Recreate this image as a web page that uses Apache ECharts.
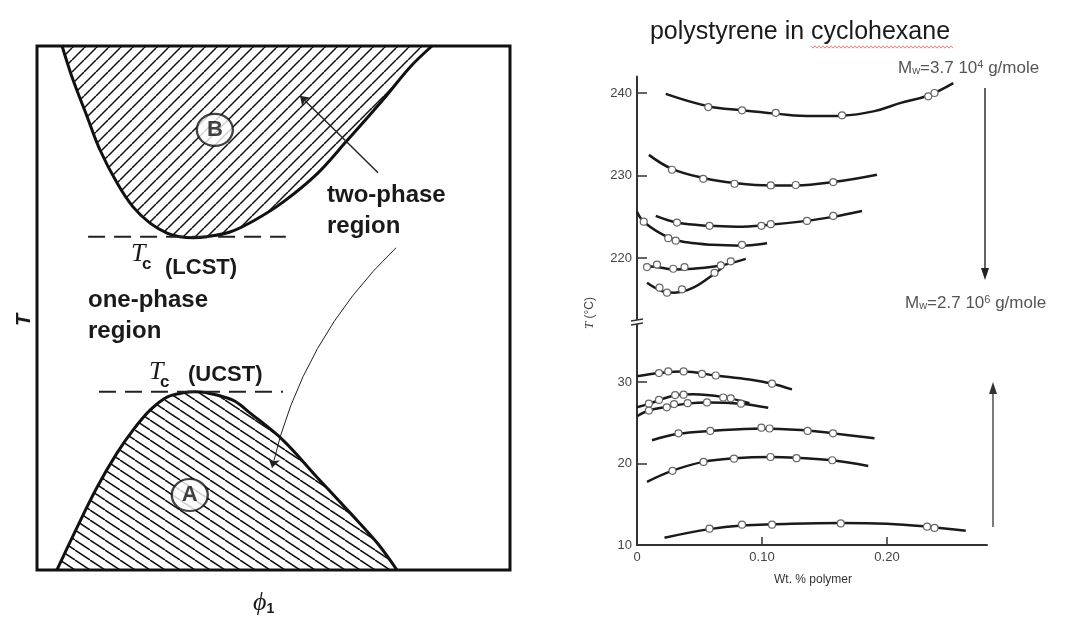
<!DOCTYPE html>
<html lang="en">
<head>
<meta charset="UTF-8">
<title>UCST / LCST</title>
<script src="https://cdn.jsdelivr.net/npm/echarts@6/dist/echarts.min.js"></script>
<style>
    html, body { margin: 0; padding: 0; background: #fff; }
    #main { width: 1073px; height: 617px; }
</style>
</head>
<body>
<div id="main"></div>
<script>
// left panel: schematic, phi1 and T as fractions of the frame
var lcstCurve = [[0.053,1.0],[0.074,0.941],[0.106,0.865],[0.133,0.802],[0.169,0.739],[0.203,0.693],[0.239,0.662],[0.275,0.643],[0.302,0.636],[0.330,0.634],[0.359,0.636],[0.408,0.645],[0.461,0.668],[0.520,0.702],[0.592,0.756],[0.655,0.819],[0.731,0.897],[0.789,0.960],[0.835,1.0]];
var ucstCurve = [[0.042,0],[0.085,0.082],[0.127,0.158],[0.169,0.223],[0.203,0.267],[0.239,0.305],[0.275,0.330],[0.309,0.338],[0.334,0.340],[0.359,0.338],[0.414,0.324],[0.450,0.300],[0.520,0.248],[0.592,0.177],[0.662,0.109],[0.719,0.052],[0.761,0]];
var lcstLevel = [[0.108,0.636],[0.526,0.636]];
var ucstLevel = [[0.131,0.340],[0.520,0.340]];
var regionMarks = [['B',0.376,0.840],['A',0.323,0.143]];
var arrowStraight = [[0.721,0.758],[0.556,0.905]];
var arrowCurved = [[0.759,0.615],[0.497,0.195]];

// right panel: polystyrene in cyclohexane, [wt% polymer, T in C]
var hiCurves = [
    [[0.023,239.9],[0.057,238.4],[0.084,237.9],[0.111,237.5],[0.14,237.2],[0.164,237.25],[0.19,237.8],[0.211,238.8],[0.233,239.7],[0.253,241.2]],
    [[0.0095,232.5],[0.028,230.8],[0.053,229.7],[0.078,229.1],[0.107,228.8],[0.127,228.8],[0.157,229.2],[0.192,230.1]],
    [[0.015,225.1],[0.032,224.3],[0.058,223.9],[0.08,223.8],[0.1,223.95],[0.136,224.5],[0.157,225.0],[0.18,225.7]],
    [[0,225.6],[0.006,224.3],[0.025,222.5],[0.04,221.9],[0.06,221.6],[0.084,221.5],[0.104,221.8]],
    [[0.006,219.0],[0.016,218.9],[0.03,218.6],[0.045,218.7],[0.067,219.1],[0.087,219.9]],
    [[0.008,217.0],[0.02,216.0],[0.03,215.8],[0.045,216.4],[0.062,218.1],[0.068,218.8]]
];
var hiPoints = [
    [[0.057,238.3],[0.084,237.9],[0.111,237.6],[0.164,237.3],[0.233,239.6],[0.238,240.0]],
    [[0.028,230.7],[0.053,229.6],[0.078,229.0],[0.107,228.8],[0.127,228.85],[0.157,229.2]],
    [[0.032,224.3],[0.058,223.9],[0.0995,223.9],[0.107,224.1],[0.136,224.5],[0.157,225.1]],
    [[0.0054,224.4],[0.025,222.4],[0.031,222.1],[0.084,221.6]],
    [[0.008,218.9],[0.016,219.2],[0.029,218.7],[0.038,218.9],[0.067,219.1],[0.075,219.6]],
    [[0.018,216.4],[0.024,215.8],[0.036,216.2],[0.062,218.2]]
];
var loCurves = [
    [[0,30.7],[0.018,31.1],[0.037,31.3],[0.063,30.8],[0.09,30.3],[0.108,29.8],[0.124,29.1]],
    [[0,26.9],[0.01,27.35],[0.02,27.9],[0.032,28.4],[0.045,28.5],[0.069,28.15],[0.09,27.4]],
    [[0,25.8],[0.0095,26.5],[0.024,26.95],[0.04,27.35],[0.056,27.5],[0.083,27.35],[0.105,26.85]],
    [[0.012,22.85],[0.033,23.65],[0.059,24.0],[0.1,24.3],[0.136,24.05],[0.157,23.7],[0.19,23.1]],
    [[0.008,17.75],[0.028,19.1],[0.053,20.2],[0.078,20.65],[0.107,20.8],[0.128,20.7],[0.156,20.4],[0.185,19.7]],
    [[0.022,10.9],[0.058,11.95],[0.084,12.4],[0.11,12.55],[0.163,12.7],[0.2,12.6],[0.232,12.25],[0.263,11.75]]
];
var loPoints = [
    [[0.0176,31.1],[0.025,31.3],[0.0373,31.3],[0.052,31.0],[0.063,30.8],[0.108,29.8]],
    [[0.0095,27.35],[0.0176,27.8],[0.0305,28.4],[0.0373,28.45],[0.069,28.1],[0.075,28.0]],
    [[0.0095,26.5],[0.0238,26.9],[0.0297,27.3],[0.0405,27.4],[0.056,27.5],[0.0832,27.35]],
    [[0.0332,23.7],[0.0586,24.0],[0.0995,24.4],[0.106,24.3],[0.1365,24.0],[0.1568,23.7]],
    [[0.0284,19.1],[0.0532,20.2],[0.0776,20.6],[0.1068,20.8],[0.1276,20.65],[0.1562,20.4]],
    [[0.058,12.0],[0.084,12.5],[0.108,12.5],[0.163,12.65],[0.232,12.25],[0.238,12.1]]
];
var hiTicks = [220, 230, 240];
var loTicks = [20, 30];
var loLabels = [10, 20, 30];
var xTicks = [0.1, 0.2];
var xLabels = [0, 0.1, 0.2];

// diagonal hatch tile, dir 1 = "/", -1 = "\"
function hatch(dir, w, h) {
    var c = document.createElement('canvas');
    c.width = w; c.height = h;
    var g = c.getContext('2d');
    g.strokeStyle = '#111';
    g.lineWidth = 1.5;
    for (var k = -1; k <= 1; k++) {
        g.beginPath();
        if (dir > 0) { g.moveTo(k * w, h); g.lineTo(k * w + w, 0); }
        else { g.moveTo(k * w, 0); g.lineTo(k * w + w, h); }
        g.stroke();
    }
    return c;
}

// red squiggle under "cyclohexane" (spell-check mark in the source)
function squiggle(x0, x1, y) {
    var pts = [];
    for (var x = x0, i = 0; x <= x1; x += 2, i++) pts.push([x, y + (i % 2 ? 1.2 : -1.2)]);
    return pts;
}

var SANS = 'Liberation Sans, Arial, sans-serif';
var SERIF = 'Liberation Serif, DejaVu Serif, serif';

var series = [
    {
        type: 'line', xAxisIndex: 0, yAxisIndex: 0, data: lcstCurve, smooth: 0.35,
        showSymbol: false, lineStyle: { color: '#111', width: 3 },
        areaStyle: { origin: 'end', opacity: 1, color: { image: hatch(1, 12, 12), repeat: 'repeat' } }
    },
    {
        type: 'line', xAxisIndex: 0, yAxisIndex: 0, data: ucstCurve, smooth: 0.35,
        showSymbol: false, lineStyle: { color: '#111', width: 3 },
        areaStyle: { origin: 'start', opacity: 1, color: { image: hatch(-1, 15, 10), repeat: 'repeat' } }
    },
    {
        type: 'line', xAxisIndex: 0, yAxisIndex: 0, data: lcstLevel, showSymbol: false,
        lineStyle: { color: '#222', width: 2, type: [17, 9] }
    },
    {
        type: 'line', xAxisIndex: 0, yAxisIndex: 0, data: ucstLevel, showSymbol: false,
        lineStyle: { color: '#222', width: 2, type: [17, 9] }
    },
    {
        type: 'scatter', xAxisIndex: 0, yAxisIndex: 0, z: 5,
        data: regionMarks.map(function (m) { return { name: m[0], value: [m[1], m[2]] }; }),
        symbolSize: [36, 32],
        itemStyle: { color: '#fff', borderColor: '#111', borderWidth: 2.2 },
        label: { show: true, position: 'inside', formatter: '{b}', color: '#111',
            fontFamily: SANS, fontSize: 22, fontWeight: 'bold' }
    },
    {
        type: 'lines', coordinateSystem: 'cartesian2d', xAxisIndex: 0, yAxisIndex: 0, z: 6,
        symbol: ['none', 'arrow'], symbolSize: 9,
        lineStyle: { color: '#222', width: 1.4, opacity: 1 },
        data: [
            { coords: arrowStraight },
            { coords: arrowCurved, lineStyle: { curveness: -0.15, width: 1 } }
        ]
    }
];

hiCurves.forEach(function (c) {
    series.push({ type: 'line', xAxisIndex: 1, yAxisIndex: 1, data: c, smooth: 0.4,
        showSymbol: false, lineStyle: { color: '#1a1a1a', width: 2.5 } });
});
hiPoints.forEach(function (p) {
    series.push({ type: 'scatter', xAxisIndex: 1, yAxisIndex: 1, data: p, symbolSize: 7, z: 4,
        itemStyle: { color: '#fff', borderColor: '#666', borderWidth: 1.2, opacity: 1 } });
});
loCurves.forEach(function (c) {
    series.push({ type: 'line', xAxisIndex: 2, yAxisIndex: 2, data: c, smooth: 0.4,
        showSymbol: false, lineStyle: { color: '#1a1a1a', width: 2.5 } });
});
loPoints.forEach(function (p) {
    series.push({ type: 'scatter', xAxisIndex: 2, yAxisIndex: 2, data: p, symbolSize: 7, z: 4,
        itemStyle: { color: '#fff', borderColor: '#666', borderWidth: 1.2, opacity: 1 } });
});

var axisStyle = { lineStyle: { color: '#333', width: 2 } };
var tickLabel = { color: '#444', fontFamily: SANS, fontSize: 13 };

function txt(x, y, text, font, opt) {
    var s = { x: x, y: y, text: text, font: font, fill: '#1a1a1a', align: 'left', verticalAlign: 'middle' };
    for (var k in (opt || {})) s[k] = opt[k];
    return { type: 'text', style: s, z: 10 };
}

var myChart = echarts.init(document.getElementById('main'));

var option = {
    animation: false,
    backgroundColor: '#fff',
    grid: [
        { left: 37, top: 46, width: 473, height: 524, show: true, borderColor: '#111', borderWidth: 3 },
        { left: 637, top: 76.5, width: 350, height: 247.5 },
        { left: 637, top: 325, width: 350, height: 220 }
    ],
    xAxis: [
        { gridIndex: 0, type: 'value', min: 0, max: 1, show: false },
        { gridIndex: 1, type: 'value', min: 0, max: 0.28, show: false },
        {
            gridIndex: 2, type: 'value', min: 0, max: 0.28, splitLine: { show: false },
            axisLine: axisStyle,
            axisTick: { inside: true, length: 8, customValues: xTicks, lineStyle: { color: '#333', width: 1.5 } },
            axisLabel: Object.assign({ customValues: xLabels, margin: 6,
                formatter: function (v) { return v === 0 ? '0' : v.toFixed(2); } }, tickLabel)
        }
    ],
    yAxis: [
        { gridIndex: 0, type: 'value', min: 0, max: 1, show: false },
        {
            gridIndex: 1, type: 'value', min: 212, max: 242, splitLine: { show: false },
            axisLine: axisStyle,
            axisTick: { inside: true, length: 10, customValues: hiTicks, lineStyle: { color: '#333', width: 1.5 } },
            axisLabel: Object.assign({ customValues: hiTicks, margin: 5 }, tickLabel)
        },
        {
            gridIndex: 2, type: 'value', min: 10, max: 37, splitLine: { show: false },
            axisLine: axisStyle,
            axisTick: { inside: true, length: 10, customValues: loTicks, lineStyle: { color: '#333', width: 1.5 } },
            axisLabel: Object.assign({ customValues: loLabels, margin: 5 }, tickLabel)
        }
    ],
    graphic: [
        // left panel labels
        {
            type: 'text', x: 24, y: 320, rotation: Math.PI / 2, z: 10,
            style: { text: 'T', font: 'italic bold 20px ' + SANS, fill: '#1a1a1a', align: 'center', verticalAlign: 'middle' }
        },
        txt(327, 195, 'two-phase', 'bold 24px ' + SANS),
        txt(327, 226, 'region', 'bold 24px ' + SANS),
        txt(88, 300, 'one-phase', 'bold 24px ' + SANS),
        txt(88, 331, 'region', 'bold 24px ' + SANS),
        txt(131, 254, 'T', 'italic 26px ' + SERIF),
        txt(142, 264, 'c', 'bold 17px ' + SANS),
        txt(165, 268, '(LCST)', 'bold 22px ' + SANS),
        txt(149, 372, 'T', 'italic 26px ' + SERIF),
        txt(160, 382, 'c', 'bold 17px ' + SANS),
        txt(188, 375, '(UCST)', 'bold 22px ' + SANS),
        {
            type: 'text', x: 253, y: 603, z: 10,
            style: { text: '{p|ϕ}{s|1}', verticalAlign: 'middle',
                rich: { p: { font: 'italic 26px ' + SERIF, fill: '#1a1a1a', lineHeight: 26 },
                        s: { font: 'bold 14px ' + SANS, fill: '#1a1a1a', verticalAlign: 'bottom', lineHeight: 14 } } }
        },
        // right panel labels
        txt(800, 32, 'polystyrene in cyclohexane', '25px ' + SANS, { align: 'center' }),
        { type: 'polyline', shape: { points: squiggle(811, 953, 47) }, style: { stroke: '#e06060', lineWidth: 0.8, fill: null }, z: 10 },
        {
            type: 'text', x: 898, y: 68, z: 10,
            style: { text: 'M{s|w}=3.7 10{p|4} g/mole', font: '17px ' + SANS, fill: '#555', verticalAlign: 'middle',
                rich: { s: { font: '11px ' + SANS, fill: '#555', verticalAlign: 'bottom', lineHeight: 11 },
                        p: { font: '11px ' + SANS, fill: '#555', verticalAlign: 'top', lineHeight: 11 } } }
        },
        {
            type: 'text', x: 905, y: 303, z: 10,
            style: { text: 'M{s|w}=2.7 10{p|6} g/mole', font: '17px ' + SANS, fill: '#555', verticalAlign: 'middle',
                rich: { s: { font: '11px ' + SANS, fill: '#555', verticalAlign: 'bottom', lineHeight: 11 },
                        p: { font: '11px ' + SANS, fill: '#555', verticalAlign: 'top', lineHeight: 11 } } }
        },
        {
            type: 'text', x: 590, y: 313, rotation: Math.PI / 2, z: 10,
            style: { text: '{t|T} (°C)', font: '12px ' + SANS, fill: '#444', align: 'center', verticalAlign: 'middle',
                rich: { t: { font: 'italic 13px ' + SERIF, fill: '#444' } } }
        },
        txt(813, 580, 'Wt. % polymer', '12px ' + SANS, { align: 'center', fill: '#333' }),
        // axis break
        { type: 'rect', shape: { x: 633, y: 320, width: 8, height: 4 }, style: { fill: '#fff' }, z: 10 },
        { type: 'line', shape: { x1: 631, y1: 321, x2: 643, y2: 319 }, style: { stroke: '#333', lineWidth: 1.3 }, z: 11 },
        { type: 'line', shape: { x1: 631, y1: 325, x2: 643, y2: 323 }, style: { stroke: '#333', lineWidth: 1.3 }, z: 11 },
        // molecular weight arrows
        { type: 'line', shape: { x1: 985, y1: 88, x2: 985, y2: 270 }, style: { stroke: '#222', lineWidth: 1.4 }, z: 10 },
        { type: 'polygon', shape: { points: [[981, 268], [989, 268], [985, 280]] }, style: { fill: '#222' }, z: 10 },
        { type: 'line', shape: { x1: 993, y1: 527, x2: 993, y2: 392 }, style: { stroke: '#444', lineWidth: 1.4 }, z: 10 },
        { type: 'polygon', shape: { points: [[989, 394], [997, 394], [993, 382]] }, style: { fill: '#333' }, z: 10 }
    ],
    series: series
};

myChart.setOption(option);
</script>
</body>
</html>
